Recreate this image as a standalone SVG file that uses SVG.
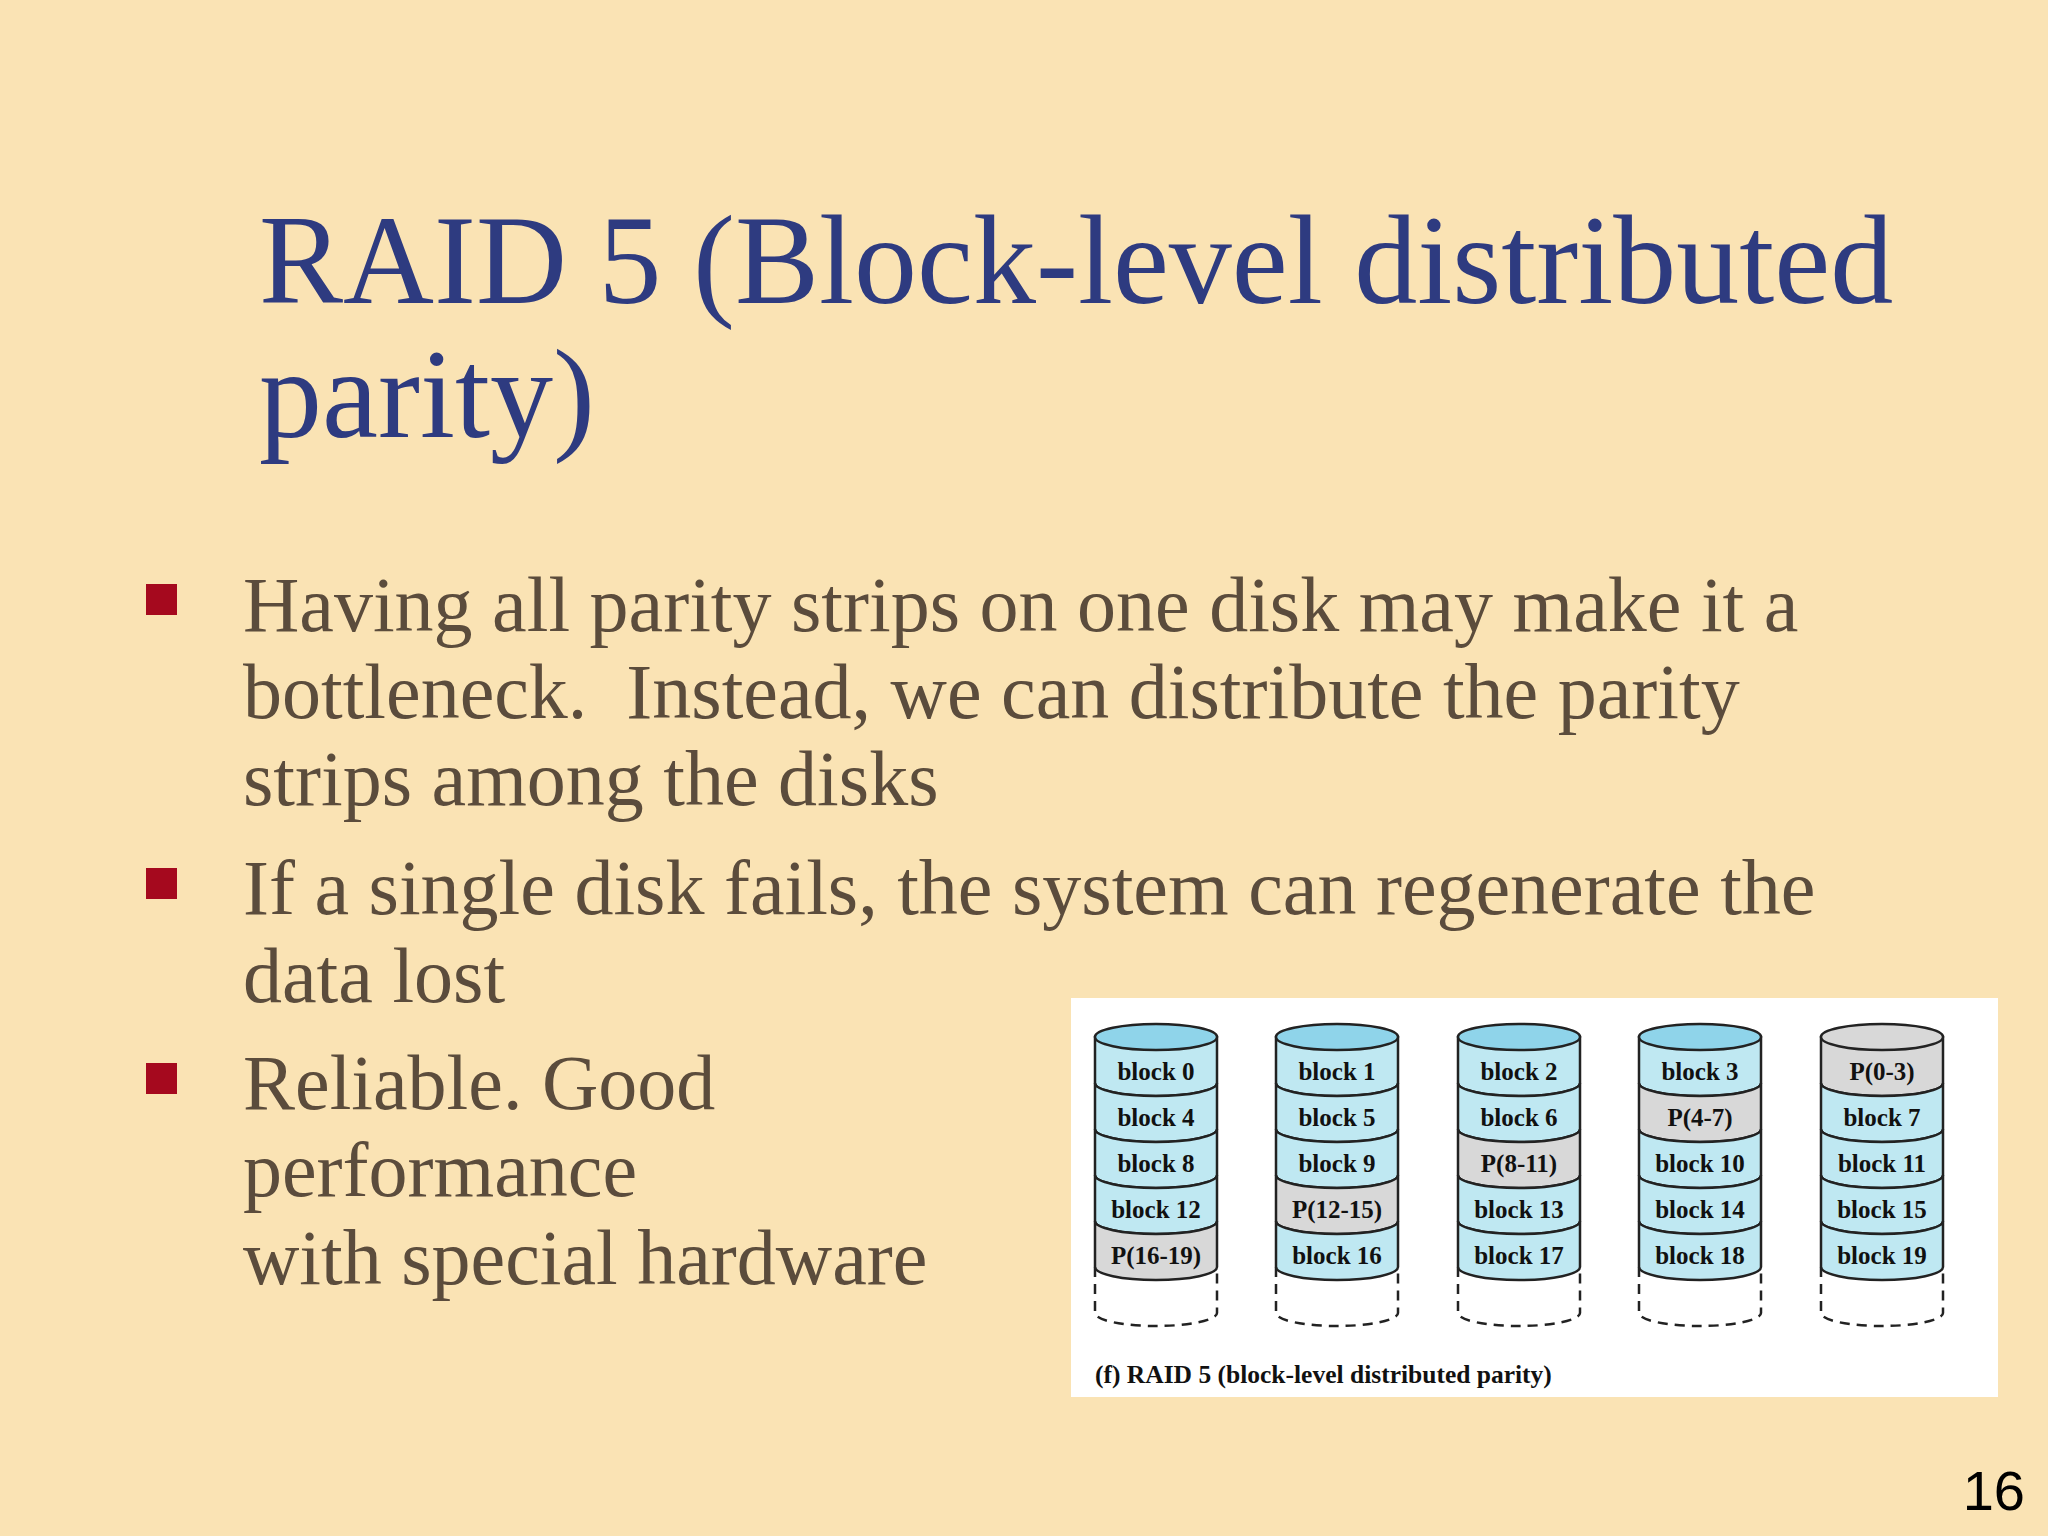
<svg xmlns="http://www.w3.org/2000/svg" width="2048" height="1536" viewBox="0 0 2048 1536">
<style>
.t{font-family:"Liberation Serif",serif;fill:#2e3b80;font-size:126px}
.b{font-family:"Liberation Serif",serif;fill:#5b4c3c;font-size:78px}
.d{font-family:"Liberation Serif",serif;font-weight:bold;font-size:25px;fill:#111;text-anchor:middle}
.s{stroke:#222;stroke-width:2.5}
.bl{fill:#bfe8f2}
.p{fill:#d8d8d8}
.dash{fill:none;stroke:#222;stroke-width:2.5;stroke-dasharray:10 7}
</style>
<defs>
<g id="bot"><path class="dash" d="M-61,0 V46 A61,13 0 0 0 61,46 V0"/></g>
</defs>
<rect width="2048" height="1536" fill="#fae3b4"/>
<text class="t" x="259" y="303">RAID 5 (Block-level distributed</text>
<text class="t" x="259" y="437">parity)</text>
<g fill="#a5091e"><rect x="146" y="584" width="31" height="31"/><rect x="146" y="868" width="31" height="31"/><rect x="146" y="1063" width="31" height="31"/></g>
<g class="b">
<text x="243" y="631">Having all parity strips on one disk may make it a</text>
<text x="243" y="718" style="white-space:pre">bottleneck.  Instead, we can distribute the parity</text>
<text x="243" y="805">strips among the disks</text>
<text x="243" y="914">If a single disk fails, the system can regenerate the</text>
<text x="243" y="1002">data lost</text>
<text x="243" y="1109">Reliable. Good</text>
<text x="243" y="1196">performance</text>
<text x="243" y="1284">with special hardware</text>
</g>
<rect x="1071" y="998" width="927" height="399" fill="#fff"/>
<g id="disks">
<g id="disk0" transform="translate(1156,0)">
<path class="bl s" d="M-61,1037 V1083 A61,13 0 0 0 61,1083 V1037 Z"/><text class="d" y="1080">block 0</text>
<path class="bl s" d="M-61,1083 V1129 A61,13 0 0 0 61,1129 V1083 A61,13 0 0 1 -61,1083 Z"/><text class="d" y="1126">block 4</text>
<path class="bl s" d="M-61,1129 V1175 A61,13 0 0 0 61,1175 V1129 A61,13 0 0 1 -61,1129 Z"/><text class="d" y="1172">block 8</text>
<path class="bl s" d="M-61,1175 V1221 A61,13 0 0 0 61,1221 V1175 A61,13 0 0 1 -61,1175 Z"/><text class="d" y="1218">block 12</text>
<path class="p s" d="M-61,1221 V1267 A61,13 0 0 0 61,1267 V1221 A61,13 0 0 1 -61,1221 Z"/><text class="d" y="1264">P(16-19)</text>
<ellipse cy="1037" rx="61" ry="13" fill="#8fd4ea" class="s"/>
<use href="#bot" y="1267"/>
</g>
<g id="disk1" transform="translate(1337,0)">
<path class="bl s" d="M-61,1037 V1083 A61,13 0 0 0 61,1083 V1037 Z"/><text class="d" y="1080">block 1</text>
<path class="bl s" d="M-61,1083 V1129 A61,13 0 0 0 61,1129 V1083 A61,13 0 0 1 -61,1083 Z"/><text class="d" y="1126">block 5</text>
<path class="bl s" d="M-61,1129 V1175 A61,13 0 0 0 61,1175 V1129 A61,13 0 0 1 -61,1129 Z"/><text class="d" y="1172">block 9</text>
<path class="p s" d="M-61,1175 V1221 A61,13 0 0 0 61,1221 V1175 A61,13 0 0 1 -61,1175 Z"/><text class="d" y="1218">P(12-15)</text>
<path class="bl s" d="M-61,1221 V1267 A61,13 0 0 0 61,1267 V1221 A61,13 0 0 1 -61,1221 Z"/><text class="d" y="1264">block 16</text>
<ellipse cy="1037" rx="61" ry="13" fill="#8fd4ea" class="s"/>
<use href="#bot" y="1267"/>
</g>
<g id="disk2" transform="translate(1519,0)">
<path class="bl s" d="M-61,1037 V1083 A61,13 0 0 0 61,1083 V1037 Z"/><text class="d" y="1080">block 2</text>
<path class="bl s" d="M-61,1083 V1129 A61,13 0 0 0 61,1129 V1083 A61,13 0 0 1 -61,1083 Z"/><text class="d" y="1126">block 6</text>
<path class="p s" d="M-61,1129 V1175 A61,13 0 0 0 61,1175 V1129 A61,13 0 0 1 -61,1129 Z"/><text class="d" y="1172">P(8-11)</text>
<path class="bl s" d="M-61,1175 V1221 A61,13 0 0 0 61,1221 V1175 A61,13 0 0 1 -61,1175 Z"/><text class="d" y="1218">block 13</text>
<path class="bl s" d="M-61,1221 V1267 A61,13 0 0 0 61,1267 V1221 A61,13 0 0 1 -61,1221 Z"/><text class="d" y="1264">block 17</text>
<ellipse cy="1037" rx="61" ry="13" fill="#8fd4ea" class="s"/>
<use href="#bot" y="1267"/>
</g>
<g id="disk3" transform="translate(1700,0)">
<path class="bl s" d="M-61,1037 V1083 A61,13 0 0 0 61,1083 V1037 Z"/><text class="d" y="1080">block 3</text>
<path class="p s" d="M-61,1083 V1129 A61,13 0 0 0 61,1129 V1083 A61,13 0 0 1 -61,1083 Z"/><text class="d" y="1126">P(4-7)</text>
<path class="bl s" d="M-61,1129 V1175 A61,13 0 0 0 61,1175 V1129 A61,13 0 0 1 -61,1129 Z"/><text class="d" y="1172">block 10</text>
<path class="bl s" d="M-61,1175 V1221 A61,13 0 0 0 61,1221 V1175 A61,13 0 0 1 -61,1175 Z"/><text class="d" y="1218">block 14</text>
<path class="bl s" d="M-61,1221 V1267 A61,13 0 0 0 61,1267 V1221 A61,13 0 0 1 -61,1221 Z"/><text class="d" y="1264">block 18</text>
<ellipse cy="1037" rx="61" ry="13" fill="#8fd4ea" class="s"/>
<use href="#bot" y="1267"/>
</g>
<g id="disk4" transform="translate(1882,0)">
<path class="p s" d="M-61,1037 V1083 A61,13 0 0 0 61,1083 V1037 Z"/><text class="d" y="1080">P(0-3)</text>
<path class="bl s" d="M-61,1083 V1129 A61,13 0 0 0 61,1129 V1083 A61,13 0 0 1 -61,1083 Z"/><text class="d" y="1126">block 7</text>
<path class="bl s" d="M-61,1129 V1175 A61,13 0 0 0 61,1175 V1129 A61,13 0 0 1 -61,1129 Z"/><text class="d" y="1172">block 11</text>
<path class="bl s" d="M-61,1175 V1221 A61,13 0 0 0 61,1221 V1175 A61,13 0 0 1 -61,1175 Z"/><text class="d" y="1218">block 15</text>
<path class="bl s" d="M-61,1221 V1267 A61,13 0 0 0 61,1267 V1221 A61,13 0 0 1 -61,1221 Z"/><text class="d" y="1264">block 19</text>
<ellipse cy="1037" rx="61" ry="13" fill="#d8d8d8" class="s"/>
<use href="#bot" y="1267"/>
</g>
</g>
<text class="d" x="1095" y="1383" style="text-anchor:start;font-size:25.5px">(f) RAID 5 (block-level distributed parity)</text>
<text x="2025" y="1510" font-family="Liberation Sans,sans-serif" font-size="56" text-anchor="end" fill="#000">16</text>
</svg>
